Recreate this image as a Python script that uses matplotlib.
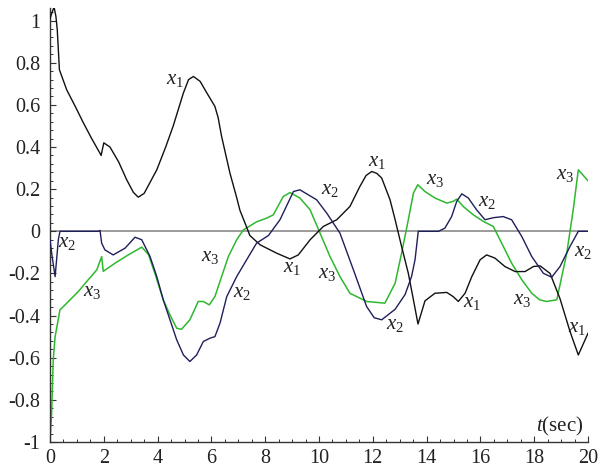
import matplotlib
matplotlib.use("Agg")
import matplotlib.pyplot as plt
from matplotlib.ticker import MultipleLocator

plt.rcParams['font.family'] = ['Liberation Serif', 'DejaVu Serif']
plt.rcParams['mathtext.fontset'] = 'custom'
plt.rcParams['mathtext.rm'] = 'Liberation Serif'
plt.rcParams['mathtext.it'] = 'Liberation Serif:italic'

# State trajectories x1, x2, x3 over time (sec)
t1 = [0.0, 0.08, 0.15, 0.22, 0.27, 0.35, 0.62, 0.95, 1.24, 1.55, 1.86, 1.9, 2.0, 2.23,
      2.55, 2.85, 3.1, 3.28, 3.5, 3.97, 4.3, 4.58, 4.96, 5.15, 5.33, 5.58, 5.83, 6.13,
      6.25, 6.38, 6.69, 6.94, 7.06, 7.25, 7.43, 7.81, 8.43, 8.92, 9.23, 9.67, 10.16,
      10.66, 11.15, 11.52, 11.75, 11.96, 12.15, 12.33, 12.64, 12.83, 13.07, 13.32,
      13.51, 13.68, 13.94, 14.31, 14.75, 14.99, 15.18, 15.43, 15.68, 15.99, 16.23,
      16.54, 16.91, 17.29, 17.66, 17.97, 18.22, 18.59, 18.96, 19.33, 19.64, 20.0]
x1 = [1.01, 1.04, 1.065, 1.02, 0.957, 0.767, 0.672, 0.59, 0.515, 0.44, 0.37, 0.36, 0.42,
      0.40, 0.33, 0.245, 0.185, 0.162, 0.18, 0.292, 0.40, 0.50, 0.657, 0.72, 0.735,
      0.712, 0.657, 0.593, 0.54, 0.45, 0.276, 0.16, 0.10, 0.039, -0.02, -0.064, -0.104,
      -0.131, -0.112, -0.040, 0.023, 0.055, 0.118, 0.213, 0.265, 0.284, 0.275, 0.253,
      0.15, 0.055, -0.072, -0.199, -0.325, -0.44, -0.33, -0.294, -0.29, -0.31, -0.333,
      -0.294, -0.215, -0.135, -0.112, -0.127, -0.167, -0.191, -0.191, -0.167, -0.164,
      -0.2, -0.32, -0.475, -0.587, -0.484]

t2 = [0.0, 0.08, 0.19, 0.31, 0.37, 1.8, 1.86, 1.92, 2.04, 2.35, 2.79, 3.16, 3.41, 3.72,
      3.97, 4.21, 4.46, 4.71, 4.96, 5.2, 5.45, 5.7, 5.95, 6.13, 6.32, 6.57, 6.94, 7.31,
      7.68, 8.12, 8.55, 9.05, 9.29, 9.91, 10.29, 10.78, 11.28, 11.77, 12.05, 12.33,
      12.83, 13.2, 13.44, 13.57, 13.69, 14.44, 14.68, 14.93, 15.12, 15.31, 15.55, 15.86,
      16.17, 16.5, 16.85, 17.16, 17.54, 17.91, 18.34, 18.65, 18.96, 19.33, 19.64, 20.0]
x2 = [-0.04, -0.12, -0.215, -0.04, 0.0, 0.0, 0.004, -0.056, -0.088, -0.112, -0.08,
      -0.028, -0.04, -0.12, -0.215, -0.325, -0.42, -0.515, -0.587, -0.618, -0.587,
      -0.523, -0.507, -0.5, -0.436, -0.31, -0.215, -0.135, -0.056, -0.02, 0.055, 0.189,
      0.197, 0.15, 0.086, -0.009, -0.183, -0.357, -0.41, -0.42, -0.37, -0.30, -0.215,
      -0.135, 0.0, 0.0, 0.015, 0.07, 0.142, 0.178, 0.158, 0.102, 0.055, 0.065, 0.07,
      0.055, -0.025, -0.12, -0.199, -0.218, -0.167, -0.072, 0.0, 0.0]

t3 = [0.0, 0.06, 0.12, 0.19, 0.37, 0.56, 1.05, 1.42, 1.74, 1.92, 1.98, 2.42, 2.91,
      3.41, 3.66, 3.9, 4.21, 4.46, 4.71, 4.89, 5.2, 5.51, 5.7, 5.92, 6.13, 6.38, 6.63,
      6.94, 7.19, 7.68, 8.06, 8.3, 8.67, 8.92, 9.29, 9.67, 10.04, 10.41, 10.78, 11.15,
      11.77, 12.45, 12.83, 13.07, 13.32, 13.51, 13.67, 13.94, 14.31, 14.75, 14.99, 15.12,
      15.36, 15.74, 16.11, 16.48, 16.79, 17.16, 17.54, 17.91, 18.2, 18.46, 18.84, 19.21,
      19.45, 19.64, 20.0]
x3 = [-1.0, -0.864, -0.61, -0.50, -0.373, -0.349, -0.286, -0.23, -0.183, -0.12, -0.19,
      -0.151, -0.112, -0.075, -0.11, -0.2, -0.325, -0.397, -0.46, -0.465, -0.42, -0.333,
      -0.333, -0.349, -0.31, -0.215, -0.12, -0.04, 0.007, 0.045, 0.063, 0.078, 0.165,
      0.184, 0.158, 0.102, -0.009, -0.12, -0.215, -0.294, -0.333, -0.341, -0.246,
      -0.104, 0.055, 0.181, 0.221, 0.189, 0.158, 0.134, 0.142, 0.153, 0.118, 0.078,
      0.047, 0.023, -0.056, -0.151, -0.23, -0.294, -0.325, -0.333, -0.325, -0.104, 0.102,
      0.292, 0.24]

# Curve annotations: (label, t, value)
labels = [
    (r'$x_1$', 4.65, 0.72), (r'$x_2$', 0.63, -0.055), (r'$x_3$', 1.56, -0.287),
    (r'$x_3$', 5.95, -0.121), (r'$x_2$', 7.14, -0.292), (r'$x_1$', 9.0, -0.173),
    (r'$x_2$', 10.41, 0.197), (r'$x_3$', 10.3, -0.202), (r'$x_1$', 12.16, 0.33),
    (r'$x_3$', 14.31, 0.245), (r'$x_2$', 12.83, -0.444), (r'$x_1$', 15.69, -0.34),
    (r'$x_2$', 16.25, 0.14), (r'$x_3$', 17.55, -0.325), (r'$x_1$', 19.59, -0.458),
    (r'$x_3$', 19.14, 0.268), (r'$x_2$', 19.81, -0.097),
]

fig = plt.figure(figsize=(6, 4.75), dpi=100)
ax = fig.add_axes([50 / 600, 33 / 475, 538 / 600, 434 / 475])

ax.axhline(0, color='#8a8a8a', lw=1.2, zorder=1)
ax.plot(t1, x1, color='#111111', lw=1.0, zorder=3)
ax.plot(t2, x2, color='#1f1f5c', lw=1.0, zorder=3)
ax.plot(t3, x3, color='#2eb82e', lw=1.1, zorder=2)

for txt, tx, ty in labels:
    ax.text(tx, ty, txt, fontsize=15, ha='center', va='center', color='#222222')
ax.text(18.96, -0.924, r'$t$(sec)', fontsize=15, ha='center', va='center', color='#222222')

ax.set_xlim(0, 20)
ax.set_ylim(-1, 1.06)
for s in ['top', 'right']:
    ax.spines[s].set_visible(False)
for s in ['left', 'bottom']:
    ax.spines[s].set_color('#333333')
    ax.spines[s].set_linewidth(1.0)

ax.xaxis.set_major_locator(MultipleLocator(2))
ax.xaxis.set_minor_locator(MultipleLocator(0.5))
ax.yaxis.set_minor_locator(MultipleLocator(0.04))
ax.set_yticks([-1, -0.8, -0.6, -0.4, -0.2, 0, 0.2, 0.4, 0.6, 0.8, 1])
ax.set_yticklabels(['-1', '-0.8', '-0.6', '-0.4', '-0.2', '0', '0.2', '0.4', '0.6', '0.8', '1'])
ax.tick_params(which='major', direction='in', length=4, width=0.8, colors='#333333',
               labelsize=14.5, labelcolor='#222222')
ax.tick_params(which='minor', direction='in', length=2.5, width=0.7, colors='#333333')
ax.tick_params(axis='y', pad=7)
ax.tick_params(axis='x', pad=5)

fig.savefig('out.png', dpi=100)
